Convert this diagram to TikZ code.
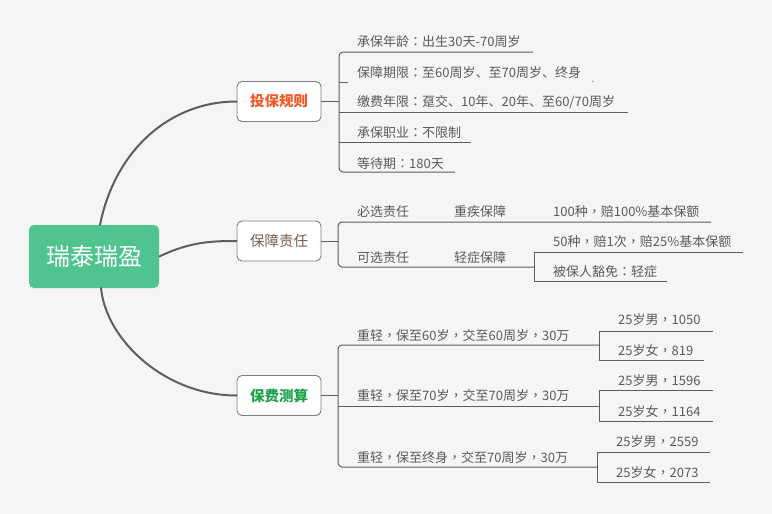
\documentclass[tikz,border=0pt]{standalone}
\usepackage{fontspec}
\setmainfont{Noto Sans CJK SC}
\newfontfamily\cjk{Noto Sans CJK SC}
\newfontfamily\tcpunct{Noto Sans CJK TC}
\newcommand{\qcm}{{\tcpunct ，}}
\newcommand{\qcl}{{\tcpunct ：}}
\definecolor{bgc}{HTML}{F5F5F5}
\definecolor{rootc}{HTML}{50C48F}
\definecolor{linec}{HTML}{5E5E5E}
\definecolor{txtc}{HTML}{5A5A5A}
\definecolor{orangec}{HTML}{F05A28}
\definecolor{brownc}{HTML}{7A5C48}
\definecolor{greenc}{HTML}{1AA34A}
\tikzset{
  rootbox/.style={draw=none, fill=rootc, rounded corners=5pt, minimum width=130pt, minimum height=63pt, text=white, font=\cjk\fontsize{24}{26}\selectfont, inner sep=0pt},
  mainbox/.style={draw=linec!80, fill=white, rounded corners=5pt, minimum width=84pt, minimum height=40pt, line width=0.9pt, font=\cjk\fontsize{14.5}{16}\selectfont, inner sep=0pt},
  item/.style={anchor=base west, inner sep=0pt, text=txtc, font=\cjk\fontsize{13}{15}\selectfont},
  trunk/.style={draw=linec, line width=2pt, line cap=round},
  branch/.style={draw=linec, line width=1pt},
  bracket/.style={draw=linec, line width=1pt, rounded corners=4pt},
  sqbracket/.style={draw=linec, line width=1pt}
}
\begin{document}
\begin{tikzpicture}[x=1pt,y=-1pt]
\fill[bgc] (0,0) rectangle (772,514);
\useasboundingbox (0,0) rectangle (772,514);

% root and main nodes
\node[rootbox] (root) at (94,256.5) {瑞泰瑞盈};
\node[mainbox, text=orangec] (r1) at (279,101.5) {\bfseries 投保规则};
\node[mainbox, text=brownc] (r2) at (279,241) {保障责任};
\node[mainbox, text=greenc] (r3) at (279,395.5) {\bfseries 保费测算};

% trunk curves
\coordinate (rt) at (100,225);
\coordinate (rb) at (101,288);
\draw[trunk] (rt) .. controls (115,150) and (170,101.5) .. (r1.west);
\draw[trunk] (root.east) .. controls (190,242) and (210,241) .. (r2.west);
\draw[trunk] (rb) .. controls (106,340) and (165,395.5) .. (r3.west);

% ---------- group 1 ----------
\coordinate (g1t) at (339,52);
\coordinate (g1b) at (339,172);
\draw[branch] (r1.east) -- (339,101.5);
\coordinate (a1e) at (533,52);
\coordinate (a5e) at (455,172);
\draw[bracket] (a1e) -- (g1t) -- (g1b) -- (a5e);
\draw[branch] (339,82) -- (348,82);
\fill[linec] (593,81.5) circle (0.7);
\draw[branch] (339,112) -- (628,112);
\draw[branch] (339,142) -- (471,142);
\node[item] (a1) at (357,46) {承保年龄\qcl 出生30天-70周岁};
\node[item] (a2) at (357,77) {保障期限\qcl 至60周岁、至70周岁、终身};
\node[item] (a3) at (357,106) {缴费年限\qcl 趸交、10年、20年、至60/70周岁};
\node[item] (a4) at (357,137) {承保职业\qcl 不限制};
\node[item] (a5) at (357,168) {等待期\qcl 180天};

% ---------- group 2 ----------
\draw[branch] (r2.east) -- (338,241);
\coordinate (b1e) at (711,222);
\coordinate (b2e) at (534,267);
\draw[bracket] (b1e) -- (338,222) -- (338,267) -- (b2e);
\draw[sqbracket] (743,252) -- (534,252) -- (534,281) -- (667,281);
\node[item] (b1) at (357,216) {必选责任};
\node[item] (b11) at (454,216) {重疾保障};
\node[item] (b111) at (553,216) {100种\qcm 赔100\%基本保额};
\node[item] (b2) at (357,262) {可选责任};
\node[item] (b21) at (454,262) {轻症保障};
\node[item] (b211) at (553,246) {50种\qcm 赔1次\qcm 赔25\%基本保额};
\node[item] (b212) at (553,276) {被保人豁免\qcl 轻症};

% ---------- group 3 ----------
\draw[branch] (r3.east) -- (338,395.5);
\draw[bracket] (599,345) -- (338,345) -- (338,467) -- (597,467);
\draw[branch] (338,406) -- (599,406);
\draw[sqbracket] (713,331) -- (599,331) -- (599,360) -- (704,360);
\draw[sqbracket] (713,390) -- (599,390) -- (599,421) -- (713,421);
\draw[sqbracket] (710,452) -- (597,452) -- (597,482) -- (710,482);
\node[item] (c1) at (357,340) {重轻\qcm 保至60岁\qcm 交至60周岁\qcm 30万};
\node[item] (c2) at (357,400) {重轻\qcm 保至70岁\qcm 交至70周岁\qcm 30万};
\node[item] (c3) at (357,462) {重轻\qcm 保至终身\qcm 交至70周岁\qcm 30万};
\node[item] (c11) at (618,324) {25岁男\qcm 1050};
\node[item] (c12) at (618,355) {25岁女\qcm 819};
\node[item] (c21) at (618,385) {25岁男\qcm 1596};
\node[item] (c22) at (618,416) {25岁女\qcm 1164};
\node[item] (c31) at (616,446) {25岁男\qcm 2559};
\node[item] (c32) at (616,477) {25岁女\qcm 2073};
\end{tikzpicture}
\end{document}
